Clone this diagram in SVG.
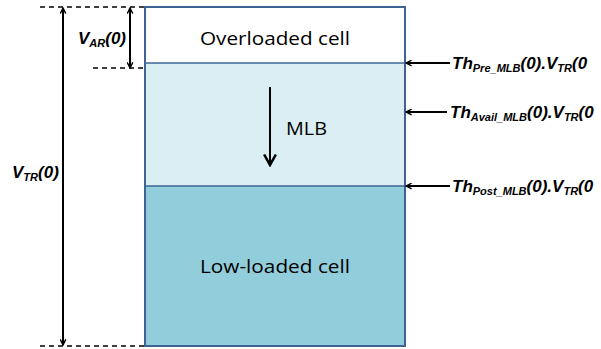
<svg xmlns="http://www.w3.org/2000/svg" width="601" height="349" viewBox="0 0 601 349">
<defs>
<marker id="ah" viewBox="0 0 10 10" refX="9" refY="5" markerWidth="7" markerHeight="7" orient="auto-start-reverse" markerUnits="userSpaceOnUse">
<path d="M1,1 L9,5 L1,9" fill="none" stroke="#000" stroke-width="2"/>
</marker>
<marker id="big" viewBox="0 0 12 12" refX="10" refY="6" markerWidth="14" markerHeight="14" orient="auto" markerUnits="userSpaceOnUse">
<path d="M1,1 L10,6 L1,11" fill="none" stroke="#000" stroke-width="2.2"/>
</marker>
<style>
.lbl{font-family:"Open Sans","Liberation Sans",sans-serif;font-size:17.5px;fill:#000}
.m{font-family:"Liberation Sans",sans-serif;font-style:italic;font-weight:bold;font-size:17px;fill:#000}
.s{font-size:11px}
.dash{stroke:#000;stroke-width:1.5;stroke-dasharray:5,4;fill:none}
.ln{stroke:#000;stroke-width:2;fill:none}
</style>
</defs>
<g id="cells">
<g id="overloaded"><rect x="145" y="7" width="260" height="56" fill="#FFFFFF"/><text class="lbl" x="200" y="45" textLength="150" lengthAdjust="spacingAndGlyphs">Overloaded cell</text></g>
<g id="mlb-zone"><rect x="145" y="63" width="260" height="123" fill="#DAEEF3"/><text class="lbl" x="286" y="135" textLength="41" lengthAdjust="spacingAndGlyphs">MLB</text></g>
<g id="lowloaded"><rect x="145" y="186" width="260" height="160" fill="#92CDDC"/><text class="lbl" x="200" y="273" textLength="150" lengthAdjust="spacingAndGlyphs">Low-loaded cell</text></g>
<rect x="145" y="7" width="260" height="339" fill="none" stroke="#3F6494" stroke-width="2"/>
<line x1="145" y1="63" x2="405" y2="63" stroke="#3F6494" stroke-width="1.5"/>
<line x1="145" y1="186" x2="405" y2="186" stroke="#3F6494" stroke-width="1.5"/>
</g>
<g id="connectors">
<line class="dash" x1="40" y1="7" x2="145" y2="7"/>
<line class="dash" x1="40" y1="346" x2="145" y2="346"/>
<line class="dash" x1="93" y1="68" x2="145" y2="68"/>
<line class="ln" x1="63" y1="8" x2="63" y2="345" marker-start="url(#ah)" marker-end="url(#ah)"/>
<line class="ln" x1="130" y1="8" x2="130" y2="68" stroke-width="1.5" marker-start="url(#ah)" marker-end="url(#ah)"/>
<line class="ln" x1="270" y1="87" x2="270" y2="165" stroke-width="3" marker-end="url(#big)"/>
<line class="ln" x1="450" y1="63" x2="406" y2="63" stroke-width="2.5" marker-end="url(#ah)"/>
<line class="ln" x1="447" y1="112" x2="406" y2="112" stroke-width="1.5" marker-end="url(#ah)"/>
<line class="ln" x1="450" y1="186" x2="406" y2="186" stroke-width="1.5" marker-end="url(#ah)"/>
</g>
<g id="labels">
<text class="m" x="78" y="44">V<tspan class="s" dy="3">AR</tspan><tspan dy="-3">(0)</tspan></text>
<text class="m" x="12" y="178">V<tspan class="s" dy="3">TR</tspan><tspan dy="-3">(0)</tspan></text>
<text class="m" x="452" y="69">Th<tspan class="s" dy="3">Pre_MLB</tspan><tspan dy="-3">(0).V</tspan><tspan class="s" dy="3">TR</tspan><tspan dy="-3">(0</tspan></text>
<text class="m" x="450" y="118">Th<tspan class="s" dy="3">Avail_MLB</tspan><tspan dy="-3">(0).V</tspan><tspan class="s" dy="3">TR</tspan><tspan dy="-3">(0</tspan></text>
<text class="m" x="452" y="192">Th<tspan class="s" dy="3">Post_MLB</tspan><tspan dy="-3">(0).V</tspan><tspan class="s" dy="3">TR</tspan><tspan dy="-3">(0</tspan></text>
</g>
</svg>
